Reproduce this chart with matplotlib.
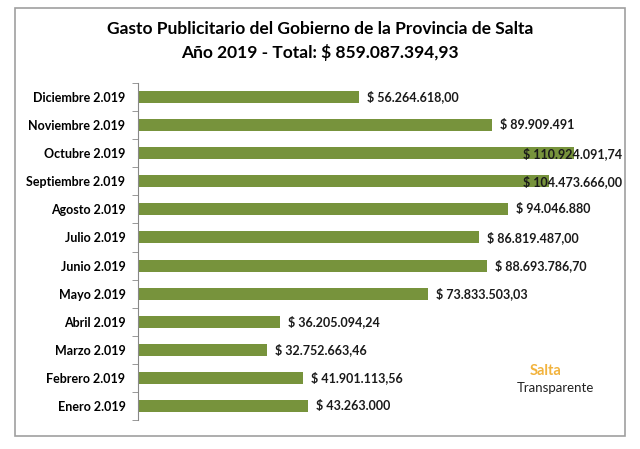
import numpy as np
import matplotlib
matplotlib.use("Agg")
import matplotlib.pyplot as plt
from matplotlib.patches import Rectangle

# ── data ──────────────────────────────────────────────────────────────────────
months = ["Enero 2.019", "Febrero 2.019", "Marzo 2.019", "Abril 2.019",
          "Mayo 2.019", "Junio 2.019", "Julio 2.019", "Agosto 2.019",
          "Septiembre 2.019", "Octubre 2.019", "Noviembre 2.019",
          "Diciembre 2.019"]
values = [43263000.00, 41901113.56, 32752663.46, 36205094.24,
          73833503.03, 88693786.70, 86819487.00, 94046880.00,
          104473666.00, 110924091.74, 89909491.00, 56264618.00]
labels = ["$ 43.263.000", "$ 41.901.113,56", "$ 32.752.663,46",
          "$ 36.205.094,24", "$ 73.833.503,03", "$ 88.693.786,70",
          "$ 86.819.487,00", "$ 94.046.880", "$ 104.473.666,00",
          "$ 110.924.091,74", "$ 89.909.491", "$ 56.264.618,00"]
title = ("Gasto Publicitario del Gobierno de la Provincia de Salta\n"
         "Año 2019 - Total: $ 859.087.394,93")

BAR_COLOR = "#77933C"
FONT = ["Lato", "DejaVu Sans"]
plt.rcParams["font.family"] = FONT

fig = plt.figure(figsize=(6.4, 4.49), dpi=100)
ax = fig.add_axes([138 / 640, 1 - 420 / 449, (610 - 138) / 640, (420 - 83) / 449])

y = np.arange(len(months))
ax.barh(y, values, height=0.43, color=BAR_COLOR)

# labels: the two largest ones sit on top of the bar end, like the original
for yi, v, lab in zip(y, values, labels):
    xpos = v + 2.0e6 if v < 100e6 else 98e6
    ax.text(xpos, yi, lab, va="center", ha="left", fontsize=9,
            fontweight="bold", color="#1a1a1a")

ax.set_xlim(0, 120e6)
ax.set_ylim(-0.5, len(months) - 0.5)
ax.set_yticks(y)
ax.set_yticklabels(months, fontsize=9, fontweight="bold")
ax.set_yticks(np.arange(-0.5, len(months)), minor=True)
ax.tick_params(axis="y", which="major", length=0, pad=9)
ax.tick_params(axis="y", which="minor", length=4, color="#888888", direction="out")
ax.set_xticks([])
for s in ["top", "right", "bottom"]:
    ax.spines[s].set_visible(False)
ax.spines["left"].set_color("#888888")

fig.text(0.5, 1 - 41 / 449, title, ha="center", va="center", fontsize=12.5,
         fontweight="bold", linespacing=1.5)

# logo text
fig.text(530 / 640, 1 - 371 / 449, "Salta", ha="left", va="center",
         fontsize=10.5, fontweight="bold", color="#F2B33D")
fig.text(555 / 640, 1 - 388 / 449, "Transparente", ha="center", va="center",
         fontsize=9.5, color="#222222")

# outer frame
fig.patches.append(Rectangle((15 / 640, 1 - 436 / 449), (625 - 15) / 640,
                             (436 - 8) / 449, transform=fig.transFigure,
                             fill=False, edgecolor="#a0a0a0", lw=1.2))

fig.savefig("out.png", dpi=100)
